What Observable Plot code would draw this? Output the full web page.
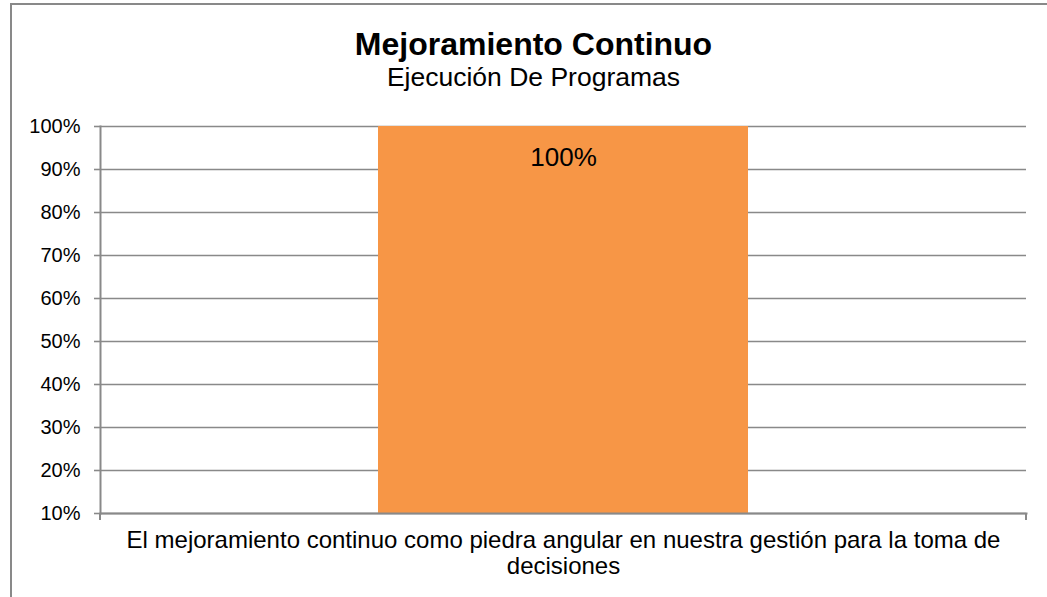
<!DOCTYPE html>
<html>
<head>
<meta charset="utf-8">
<script src="https://cdn.jsdelivr.net/npm/d3@7"></script>
<script src="https://cdn.jsdelivr.net/npm/@observablehq/plot@0.6"></script>
<style>
  body { margin: 0; background: #fff; font-family: Arial, "Liberation Sans", sans-serif; }
  #wrap { position: relative; width: 1047px; height: 597px; overflow: hidden; background: #fff; }
  #border { position: absolute; left: 10px; top: 3px; width: 1200px; height: 800px; border: 2px solid #898989; box-sizing: border-box; pointer-events: none; z-index: 5; }
  #chart { position: absolute; left: 0; top: 0; }
  .t { position: absolute; left: 10px; width: 1047px; text-align: center; line-height: 1; color: #000; white-space: nowrap; }
  #title { top: 28px; font-size: 32px; font-weight: bold; }
  #subtitle { top: 64px; font-size: 26.5px; }
</style>
</head>
<body>
<div id="wrap">
  <div id="chart"></div>
  <div class="t" id="title">Mejoramiento Continuo</div>
  <div class="t" id="subtitle">Ejecución De Programas</div>
  <div id="border"></div>
</div>
<script>
const categories = ["El mejoramiento continuo como piedra angular en nuestra gestión para la toma de decisiones"];
const categoryLabels = ["El mejoramiento continuo como piedra angular en nuestra gestión para la toma de\ndecisiones"];
const values = [1.0];
const valueLabels = ["100%"];
const yTicks = [0.1, 0.2, 0.3, 0.4, 0.5, 0.6, 0.7, 0.8, 0.9, 1.0];
const yDomain = [0.1, 1.0];

const data = categories.map((c, i) => ({ category: c, value: values[i], label: valueLabels[i] }));
const labelOf = new Map(categories.map((c, i) => [c, categoryLabels[i]]));

const gray = "#898989";

function boundaryTicks(index, scales, values, dims) {
  const g = d3.create("svg:g");
  const x0 = dims.marginLeft, x1 = dims.width - dims.marginRight;
  const yb = dims.height - dims.marginBottom;
  for (const x of [x0, x1]) {
    g.append("line").attr("x1", x).attr("x2", x).attr("y1", yb).attr("y2", yb + 7)
      .attr("stroke", gray).attr("stroke-width", 2);
  }
  return g.node();
}

const chart = Plot.plot({
  width: 1047,
  height: 597,
  marginLeft: 100,
  marginRight: 21,
  marginTop: 126,
  marginBottom: 84,
  style: { fontFamily: "Arial, 'Liberation Sans', sans-serif", background: "transparent", overflow: "visible", color: "#000" },
  x: { domain: categories, paddingInner: 0, paddingOuter: 0.75, axis: null, label: null },
  y: { domain: yDomain, clamp: true, axis: null, label: null },
  marks: [
    Plot.gridY(yTicks, { stroke: gray, strokeOpacity: 1, strokeWidth: 1.6 }),
    Plot.barY(data, { x: "category", y: "value", fill: "#F79646" }),
    Plot.axisY(yTicks, {
      tickFormat: d3.format(".0%"), tickSize: 6, tickPadding: 14, fontSize: 20,
      stroke: gray, strokeWidth: 1.6, strokeOpacity: 1, fill: "#000", label: null
    }),
    Plot.frame({ anchor: "left", stroke: gray, strokeWidth: 2 }),
    Plot.frame({ anchor: "bottom", stroke: gray, strokeWidth: 2 }),
    boundaryTicks,
    Plot.axisX({
      tickSize: 0, tickPadding: 16, fontSize: 24, lineHeight: 1.08,
      tickFormat: d => labelOf.get(d), fill: "#000", label: null
    }),
    Plot.text(data, { x: "category", y: "value", text: "label", dy: 31, fontSize: 26, fill: "#000" })
  ]
});
document.getElementById("chart").appendChild(chart);
</script>
</body>
</html>
